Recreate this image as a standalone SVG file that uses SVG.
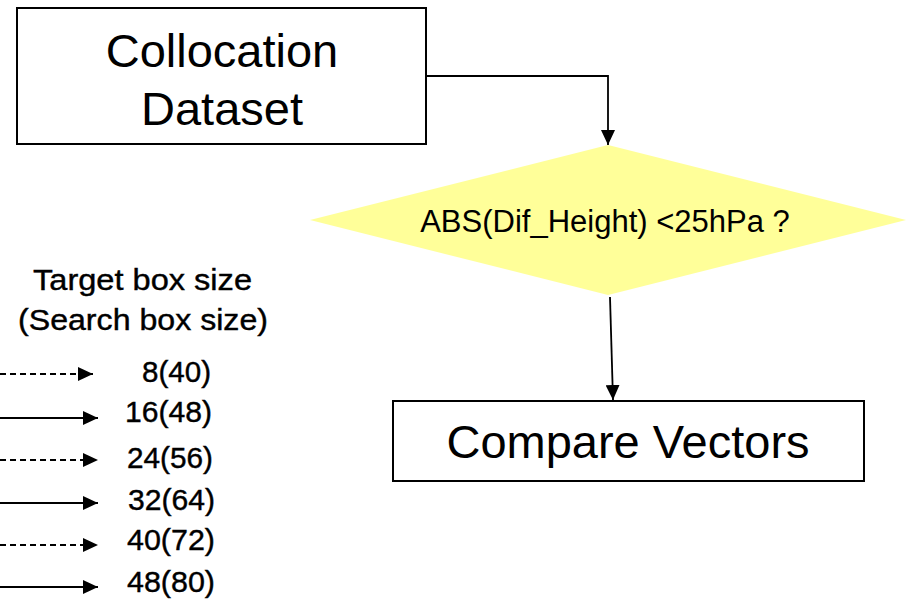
<svg xmlns="http://www.w3.org/2000/svg" width="906" height="601" viewBox="0 0 906 601">
<style>
.t{font-family:"Liberation Sans",Arial,sans-serif;fill:#000}
.lg{stroke:#000;stroke-width:0.4}
.box{fill:#fff;stroke:#000;stroke-width:2}
.c{fill:none;stroke:#000;stroke-width:1.8}
.d{stroke-dasharray:6,4}
</style>
<defs>
<marker id="ah" markerUnits="userSpaceOnUse" markerWidth="15" markerHeight="14" refX="15" refY="7" orient="auto">
<path d="M0,0 L15,7 L0,14 z" fill="#000"/>
</marker>
</defs>
<rect width="906" height="601" fill="#fff"/>
<g id="collocation">
<rect class="box" x="17" y="8" width="409" height="136"/>
<text class="t" x="222" y="67" font-size="47" text-anchor="middle">Collocation</text>
<text class="t" x="222" y="125" font-size="47" text-anchor="middle">Dataset</text>
</g>
<g id="decision">
<polygon points="310,220 608,145 906,220 608,295" fill="#FFFF99"/>
<text class="t" x="605" y="232" font-size="31" text-anchor="middle">ABS(Dif_Height) &lt;25hPa ?</text>
</g>
<g id="compare">
<rect class="box" x="393" y="401" width="471" height="80"/>
<text class="t" x="628" y="458" font-size="47" text-anchor="middle">Compare Vectors</text>
</g>
<g id="legend-title">
<text class="t lg" x="33" y="290" font-size="29" textLength="219" lengthAdjust="spacingAndGlyphs">Target box size</text>
<text class="t lg" x="18" y="330" font-size="29" textLength="250" lengthAdjust="spacingAndGlyphs">(Search box size)</text>
</g>
<g id="legend-labels">
<text class="t lg" x="142" y="382" font-size="29" textLength="69" lengthAdjust="spacingAndGlyphs">8(40)</text>
<text class="t lg" x="125" y="422" font-size="29" textLength="87" lengthAdjust="spacingAndGlyphs">16(48)</text>
<text class="t lg" x="127" y="468" font-size="29" textLength="86" lengthAdjust="spacingAndGlyphs">24(56)</text>
<text class="t lg" x="128" y="510" font-size="29" textLength="87" lengthAdjust="spacingAndGlyphs">32(64)</text>
<text class="t lg" x="127" y="550" font-size="29" textLength="88" lengthAdjust="spacingAndGlyphs">40(72)</text>
<text class="t lg" x="127" y="592" font-size="29" textLength="88" lengthAdjust="spacingAndGlyphs">48(80)</text>
</g>
<g id="connectors">
<polyline class="c" points="426,76 608,76 608,145" marker-end="url(#ah)"/>
<line class="c" x1="610" y1="297" x2="613" y2="400" marker-end="url(#ah)"/>
<line class="c d" x1="0" y1="374" x2="93" y2="374" marker-end="url(#ah)"/>
<line class="c" x1="0" y1="418" x2="98" y2="418" marker-end="url(#ah)"/>
<line class="c d" x1="0" y1="460" x2="98" y2="460" marker-end="url(#ah)"/>
<line class="c" x1="0" y1="503" x2="98" y2="503" marker-end="url(#ah)"/>
<line class="c d" x1="0" y1="545" x2="98" y2="545" marker-end="url(#ah)"/>
<line class="c" x1="0" y1="587" x2="98" y2="587" marker-end="url(#ah)"/>
</g>
</svg>
